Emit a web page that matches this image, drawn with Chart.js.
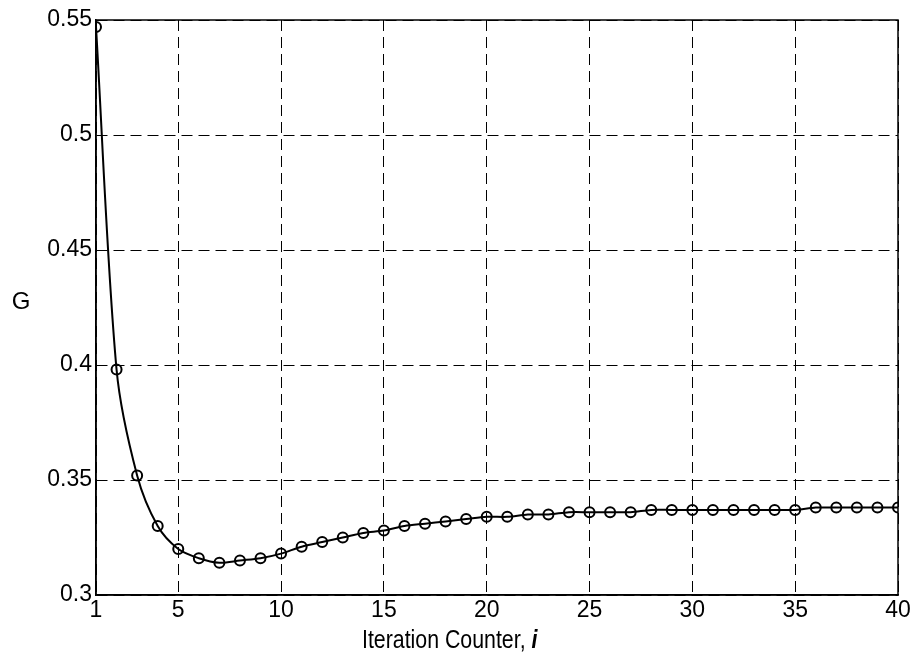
<!DOCTYPE html>
<html>
<head>
<meta charset="utf-8">
<script src="https://cdn.jsdelivr.net/npm/chart.js@4.4.1/dist/chart.umd.min.js"></script>
<style>
  html, body { margin: 0; padding: 0; background: #fff; }
  #wrap { width: 916px; height: 659px; }
</style>
</head>
<body>
<div id="wrap"><canvas id="gChart" width="916" height="659"></canvas></div>
<script>
// iteration counter and G values
var iterations = [];
for (var k = 1; k <= 40; k++) iterations.push(k);
var gValues = [0.547, 0.398, 0.352, 0.330, 0.320, 0.316, 0.314, 0.315, 0.316, 0.318,
               0.321, 0.323, 0.325, 0.327, 0.328, 0.330, 0.331, 0.332, 0.333, 0.334,
               0.334, 0.335, 0.335, 0.336, 0.336, 0.336, 0.336, 0.337, 0.337, 0.337,
               0.337, 0.337, 0.337, 0.337, 0.337, 0.338, 0.338, 0.338, 0.338, 0.338];
var xTicks = [1, 5, 10, 15, 20, 25, 30, 35, 40];
var yTicks = [0.3, 0.35, 0.4, 0.45, 0.5, 0.55];

var FONT = "Arial, 'Liberation Sans', sans-serif";

// axis titles drawn by hand (G upright, italic i)
var titlesPlugin = {
    id: "titles",
    afterDraw: function (chart) {
        var ctx = chart.ctx;
        ctx.save();
        ctx.fillStyle = "#000";
        ctx.textBaseline = "alphabetic";
        ctx.font = "24px " + FONT;
        ctx.textAlign = "center";
        ctx.fillText("G", 21, 309);

        // x title, slightly condensed like the scan
        ctx.translate(362, 648);
        ctx.scale(0.82, 1);
        ctx.textAlign = "left";
        ctx.font = "26px " + FONT;
        var part = "Iteration Counter, ";
        ctx.fillText(part, 0, 0);
        var w = ctx.measureText(part).width;
        ctx.font = "italic bold 26px " + FONT;
        ctx.fillText("i", w, 0);
        ctx.restore();
    }
};

var bgPlugin = {
    id: "bg",
    beforeDraw: function (chart) {
        var ctx = chart.ctx;
        ctx.save();
        ctx.fillStyle = "#fff";
        ctx.fillRect(0, 0, chart.width, chart.height);
        ctx.restore();
    }
};

new Chart(document.getElementById("gChart"), {
    type: "line",
    data: {
        datasets: [{
            data: iterations.map(function (x, i) { return { x: x, y: gValues[i] }; }),
            borderColor: "#000",
            borderWidth: 2,
            tension: 0.3,
            pointStyle: "circle",
            pointRadius: 5,
            pointBorderWidth: 2,
            pointBorderColor: "#000",
            pointBackgroundColor: "rgba(255,255,255,0)",
            fill: false
        }]
    },
    options: {
        responsive: false,
        animation: false,
        layout: { padding: { top: 20, right: 18, left: 0, bottom: 0 } },
        plugins: {
            legend: { display: false },
            tooltip: { enabled: false }
        },
        scales: {
            x: {
                type: "linear",
                min: 1,
                max: 40,
                afterBuildTicks: function (scale) {
                    scale.ticks = xTicks.map(function (v) { return { value: v }; });
                },
                afterFit: function (scale) { scale.height = 64; },
                ticks: {
                    color: "#000",
                    font: { family: FONT, size: 23 },
                    padding: 2,
                    maxRotation: 0,
                    autoSkip: false
                },
                grid: {
                    color: "#000",
                    lineWidth: 1,
                    drawTicks: false
                },
                border: { display: true, color: "#000", width: 1.5, dash: [11, 6] }
            },
            y: {
                type: "linear",
                min: 0.3,
                max: 0.55,
                afterBuildTicks: function (scale) {
                    scale.ticks = yTicks.map(function (v) { return { value: v }; });
                },
                afterFit: function (scale) { scale.width = 96; },
                ticks: {
                    color: "#000",
                    font: { family: FONT, size: 23 },
                    padding: 4,
                    callback: function (v) { return String(+v.toFixed(2)); }
                },
                grid: {
                    color: "#000",
                    lineWidth: 1,
                    drawTicks: false
                },
                border: { display: true, color: "#000", width: 1.5, dash: [11, 6] }
            }
        }
    },
    plugins: [bgPlugin, titlesPlugin, {
        // solid frame round the plot area
        id: "frame",
        afterDatasetsDraw: function (chart) {
            var a = chart.chartArea, ctx = chart.ctx;
            ctx.save();
            ctx.strokeStyle = "#000";
            ctx.lineWidth = 1.5;
            ctx.setLineDash([]);
            ctx.strokeRect(a.left, a.top, a.right - a.left, a.bottom - a.top);
            ctx.restore();
        }
    }]
});
</script>
</body>
</html>
